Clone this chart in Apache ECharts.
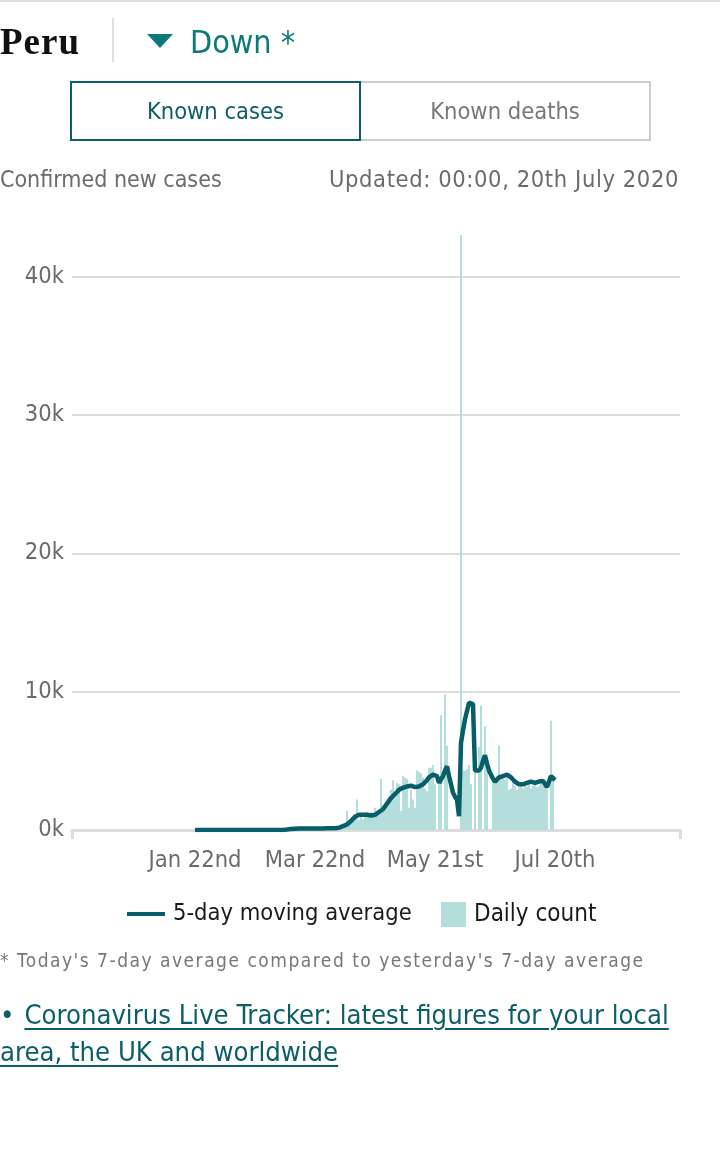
<!DOCTYPE html>
<html>
<head>
<meta charset="utf-8">
<script src="https://cdn.jsdelivr.net/npm/echarts@6/dist/echarts.min.js"></script>
<style>
  html, body { margin:0; padding:0; background:#fff; }
  body { width:720px; height:1150px; position:relative; overflow:hidden;
         font-family:'DejaVu Sans Condensed','DejaVu Sans',sans-serif; font-stretch:condensed; }
  #chart { position:absolute; left:0; top:0; width:720px; height:1150px; }
  .abs { position:absolute; white-space:nowrap; z-index:2; }
  #topline { left:0; top:0; width:720px; height:2px; background:#e0e0e0; }
  #country { left:0; top:20px; height:44px; line-height:44px; font-family:'Liberation Serif',serif; font-weight:bold; font-size:37px; letter-spacing:1px; color:#111; font-stretch:normal; }
  #divider { left:112px; top:18px; width:2px; height:44px; background:#e0e0e0; }
  #tri { left:147px; top:34px; width:0; height:0; border-left:13px solid transparent; border-right:13px solid transparent; border-top:14px solid #0c7a77; }
  #trend { left:190px; top:22px; height:40px; line-height:40px; font-size:32px; color:#0c7a77; }
  .btn { top:81px; height:56px; line-height:56px; text-align:center; font-size:23.5px; box-sizing:content-box; }
  #btn1 { left:70px; width:287px; border:2px solid #0b5d66; color:#0b5d66; }
  #btn2 { left:361px; width:288px; border:2px solid #cccccc; border-left:none; color:#777; }
  #sub { left:0; top:164px; height:30px; line-height:30px; font-size:23px; color:#6b6b6b; }
  #upd { right:41px; top:164px; height:30px; line-height:30px; font-size:23.5px; letter-spacing:0.6px; color:#6b6b6b; }
  #foot { left:0; top:946px; height:28px; line-height:28px; font-size:19px; letter-spacing:1.5px; color:#777; }
  #link { left:0; top:996px; line-height:37px; font-size:27.2px; color:#0b5d66; }
  #link .gap { display:inline-block; width:10px; }
  #link a { color:#0b5d66; text-decoration:underline; text-underline-offset:4px; text-decoration-thickness:2px; }
</style>
</head>
<body>
<div id="chart"></div>
<div class="abs" id="topline"></div>
<div class="abs" id="country">Peru</div>
<div class="abs" id="divider"></div>
<div class="abs" id="tri"></div>
<div class="abs" id="trend">Down *</div>
<div class="abs btn" id="btn1">Known cases</div>
<div class="abs btn" id="btn2">Known deaths</div>
<div class="abs" id="sub">Confirmed new cases</div>
<div class="abs" id="upd">Updated: 00:00, 20th July 2020</div>
<div class="abs" id="foot">* Today's 7-day average compared to yesterday's 7-day average</div>
<div class="abs" id="link">•<span class="gap"></span><a>Coronavirus Live Tracker: latest figures for your local</a><br><a>area, the UK and worldwide</a></div>
<script>
// Day index 0 = 22 Jan 2020
const tickDays = [0, 60, 120, 180];
const tickLabels = ['Jan 22nd', 'Mar 22nd', 'May 21st', 'Jul 20th'];
const yTickLabels = ['0k', '10k', '20k', '30k', '40k'];

// Daily count, day 0 .. 180
const dailyCount = [
  0,0,0,0,0,0,0,0,0,0, 0,0,0,0,0,0,0,0,0,0,
  0,0,0,0,0,0,0,0,0,0, 0,0,0,0,0,0,0,0,0,0,
  0,0,0,0,
  1,5,1,2,0,2,6,7,5,28, 15,31,31,89,29,55,45,32,21,64, 100,100,90,181,0,87,99,155,
  250,300,350,500,1400,600,800,800,900,2200,
  700,1000,800,1200,1300,1100,1300,1200,1600,1400,
  1500,3700,1800,2000,2200,2400,2900,3600,2300,3400,
  3300,1400,3900,3800,3700,1600,2900,2200,1600,4300,
  4200,4100,3800,3000,2800,4500,4500,4700,3300,0,
  3300,8300,0,9800,6100,0,0,0,0,0,
  0,43000,4300,4300,4400,4700,3300,0,7000,0,
  6000,9000,0,7500,5000,0,0,3700,3600,3800,
  6100,3700,3900,3600,3800,2900,3000,3500,3200,2900,
  3100,3300,3000,3200,3100,3300,3000,3200,3300,3100,
  3200,3400,3300,3200,3300,0,7900,3600,null
];

// 5-day moving average, day 0 .. 180
const movingAverage = [
  0,0,0,0,0,0,0,0,0,0, 0,0,0,0,0,0,0,0,0,0,
  0,0,0,0,0,0,0,0,0,0, 0,0,0,0,0,0,0,0,0,0,
  0,0,0,0,0,
  20,30,60,80,90,90,90,100,100,100, 100,100,100,110,110,110,110,110,110,110, 110,120,120,120,120,130,140,160,
  200,280,330,400,500,650,800,950,1050,1100,
  1100,1100,1100,1100,1100,1050,1000,1100,1200,1300,
  1400,1500,1700,1900,2100,2300,2450,2600,2750,2900,
  3000,3050,3100,3150,3250,3200,3150,3100,3100,3150,
  3150,3300,3450,3600,3800,3900,4000,3950,3900,3400,
  3300,3900,4300,4600,3900,3300,2700,2400,2200,1000,
  6300,7200,8000,8600,9200,9200,9100,4300,4200,4300,
  4500,5000,5400,4800,4300,4000,3700,3500,3400,3800,
  3900,3900,3950,4000,3950,3800,3650,3500,3400,3300,
  3250,3300,3350,3400,3450,3500,3450,3400,3400,3500,
  3600,3550,3500,3100,3500,3900,3800,3600
];

const FONT = 'DejaVu Sans Condensed';
const days = dailyCount.map((_, i) => i);
const chart = echarts.init(document.getElementById('chart'), null, {renderer: 'canvas'});
chart.setOption({
  animation: false,
  backgroundColor: 'transparent',
  grid: { left: 72, right: 40, top: 235, bottom: 320 },
  legend: [
    { data: ['5-day moving average'], left: 127, top: 902, padding: 0, icon: 'rect', itemWidth: 38, itemHeight: 4,
      itemGap: 0, selectedMode: false, textStyle: { fontFamily: FONT, fontSize: 23.5, color: '#1a1a1a', padding: [0, 0, 0, 3] } },
    { data: ['Daily count'], left: 441, top: 902, padding: 0, icon: 'rect', itemWidth: 25, itemHeight: 25,
      itemGap: 0, selectedMode: false, textStyle: { fontFamily: FONT, fontSize: 24, color: '#1a1a1a', padding: [0, 0, 0, 3] } }
  ],
  xAxis: {
    type: 'value', min: -61.5, max: 242.5,
    axisLine: { show: true, lineStyle: { color: '#dddddd', width: 3 } },
    axisTick: { show: true, customValues: [-61.5, 242.5], length: 9, lineStyle: { color: '#dddddd', width: 3 } },
    axisLabel: { customValues: tickDays, formatter: v => tickLabels[tickDays.indexOf(v)] || '',
      fontFamily: FONT, fontSize: 23.5, color: '#6b6b6b', margin: 19 },
    splitLine: { show: false }
  },
  yAxis: {
    type: 'value', min: 0, max: 43000, interval: 10000,
    axisLine: { show: false }, axisTick: { show: false },
    axisLabel: { formatter: v => yTickLabels[Math.round(v / 10000)] || '', showMaxLabel: false,
      fontFamily: FONT, fontSize: 23.5, color: '#6b6b6b', margin: 8, padding: [4, 0, 0, 0] },
    splitLine: { show: true, showMaxLine: false, lineStyle: { color: '#dddddd', width: 2 } }
  },
  series: [
    { name: 'Daily count', type: 'bar', data: days.map(d => [d, dailyCount[d]]), barWidth: 2,
      itemStyle: { color: '#b3dedb' }, z: 1, silent: true },
    { name: '5-day moving average', type: 'line', data: movingAverage.map((v, d) => [d, v]),
      showSymbol: false, symbol: 'none', color: '#075e69',
      lineStyle: { color: '#075e69', width: 4.5 }, itemStyle: { color: '#075e69' }, z: 3, silent: true }
  ]
});
</script>
</body>
</html>
